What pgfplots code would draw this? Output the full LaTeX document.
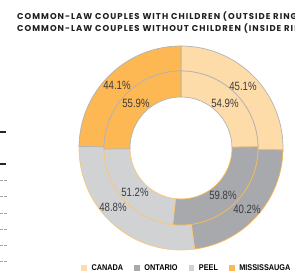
\documentclass[border=0pt]{standalone}
\usepackage{pgfplots}
\pgfplotsset{compat=1.18}
\usepackage{fontspec}
\setmainfont{Liberation Sans}
\newfontfamily\titlefont[LetterSpace=12]{Poppins}
\newfontfamily\labfont[FakeStretch=0.8]{Liberation Sans}
\newfontfamily\legfont[FakeStretch=0.88]{Liberation Sans}
\definecolor{cCan}{HTML}{FDDCA9}
\definecolor{cOnt}{HTML}{A7A9AC}
\definecolor{cPeel}{HTML}{D1D2D4}
\definecolor{cMis}{HTML}{FDB853}
\definecolor{eGrey}{HTML}{B3B3B3}
\definecolor{eOr}{HTML}{F9B95A}
\definecolor{txt}{HTML}{3C3C3E}
% ring wedge: fill, draw, start angle, end angle, outer radius, inner radius, extra
\newcommand\ringwedge[7]{%
  \addplot[fill=#1, draw=#2, line width=0.7pt, #7] coordinates {(0,0)}
    ++(#3:#5) arc[start angle=#3, end angle=#4, radius=#5]
    -- ++(#4:#6-#5) arc[start angle=#4, end angle=#3, radius=#6] -- cycle;
}
\begin{document}
\begin{tikzpicture}
\path[use as bounding box] (0,0) rectangle (295pt,276pt);
\clip (0,0) rectangle (295pt,276pt);
% outer ring: with children; inner ring: without children
% order: Canada, Ontario, Peel, Mississauga (clockwise from top)
\def\oC{45.1}\def\oO{40.2}\def\oP{48.8}\def\oM{44.1}
\def\iC{54.9}\def\iO{59.8}\def\iP{51.2}\def\iM{55.9}
\pgfmathsetmacro\oS{\oC+\oO+\oP+\oM}
\pgfmathsetmacro\iS{\iC+\iO+\iP+\iM}
\pgfmathsetmacro\oba{90}
\pgfmathsetmacro\obb{\oba-(\oC/\oS)*360}
\pgfmathsetmacro\obc{\obb-(\oO/\oS)*360}
\pgfmathsetmacro\obd{\obc-(\oP/\oS)*360}
\pgfmathsetmacro\obe{-270}
\pgfmathsetmacro\iba{90}
\pgfmathsetmacro\ibb{\iba-(\iC/\iS)*360}
\pgfmathsetmacro\ibc{\ibb-(\iO/\iS)*360}
\pgfmathsetmacro\ibd{\ibc-(\iP/\iS)*360}
\pgfmathsetmacro\ibe{-270}
% title (the reference is cut off at the right edge)
\node[anchor=base west, inner sep=0, font=\titlefont\bfseries\fontsize{8.5}{9}\selectfont, text=black!88] at (17pt,256.5pt) {COMMON-LAW COUPLES WITH CHILDREN (OUTSIDE RING)};
\node[anchor=base west, inner sep=0, font=\titlefont\bfseries\fontsize{8.5}{9}\selectfont, text=black!88] at (17pt,244pt) {COMMON-LAW COUPLES WITHOUT CHILDREN (INSIDE RING)};
% fragments of neighbouring chart at left edge
\draw[line width=1.6pt, black!85] (0,144pt) -- (6pt,144pt);
\draw[line width=1.6pt, black!85] (0,112pt) -- (6pt,112pt);
\foreach \yy in {96,80,63,47,31,15} \draw[gray!70, line width=0.8pt, dash pattern=on 2.5pt off 1.5pt] (0,\yy pt) -- (6.5pt,\yy pt);
\begin{axis}[at={(181pt,128pt)}, anchor=origin, x=1pt, y=1pt,
  xmin=-102, xmax=102, ymin=-102, ymax=102, hide axis, clip=false,
  legend columns=4,
  legend image code/.code={\fill[#1, draw=none] (0pt,-2.8pt) rectangle (5.8pt,3pt);},
  legend style={at={(0.01,-0.088)}, anchor=west, draw=none, fill=none, inner sep=0pt,
    font=\legfont\bfseries\fontsize{8.3}{9}\selectfont,
    /tikz/every odd column/.append style={column sep=2.5pt},
    /tikz/every even column/.append style={column sep=9pt}},
  legend cell align=left]
\ringwedge{cCan}{eGrey}{\oba}{\obb}{102pt}{77pt}{}
\addlegendentry{CANADA}
\ringwedge{cOnt}{eOr}{\obb}{\obc}{102pt}{77pt}{}
\addlegendentry{ONTARIO}
\ringwedge{cPeel}{eOr!60!cCan}{\obc}{\obd}{102pt}{77pt}{}
\addlegendentry{PEEL}
\ringwedge{cMis}{eGrey}{\obd}{\obe}{102pt}{77pt}{}
\addlegendentry{MISSISSAUGA}
\ringwedge{cCan}{eGrey}{\iba}{\ibb}{77pt}{51pt}{forget plot}
\ringwedge{cOnt}{eOr}{\ibb}{\ibc}{77pt}{51pt}{forget plot}
\ringwedge{cPeel}{eOr!60!cCan}{\ibc}{\ibd}{77pt}{51pt}{forget plot}
\ringwedge{cMis}{eGrey}{\ibd}{\ibe}{77pt}{51pt}{forget plot}
\begin{scope}[every node/.style={font=\labfont\fontsize{12}{14}\selectfont, text=txt}]
\node at (axis cs:62,62) {45.1\%};
\node at (axis cs:44,45) {54.9\%};
\node at (axis cs:-64,63) {44.1\%};
\node at (axis cs:-45,45) {55.9\%};
\node at (axis cs:-46,-44) {51.2\%};
\node at (axis cs:-68,-59) {48.8\%};
\node at (axis cs:42,-47) {59.8\%};
\node at (axis cs:66,-61) {40.2\%};
\end{scope}
\end{axis}
\end{tikzpicture}
\end{document}
